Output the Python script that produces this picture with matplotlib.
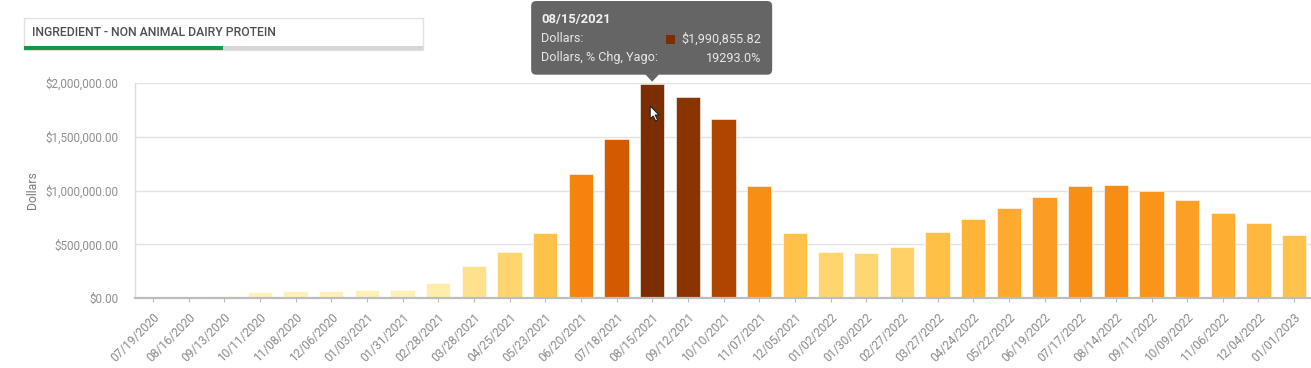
import matplotlib
matplotlib.use("Agg")
import matplotlib.pyplot as plt
import numpy as np
from matplotlib.colors import LinearSegmentedColormap, Normalize
from matplotlib.ticker import FuncFormatter, FixedLocator
from matplotlib.transforms import IdentityTransform
from matplotlib.patches import FancyBboxPatch, Rectangle, Polygon

# ---------------- data ----------------
dates = ["07/19/2020", "08/16/2020", "09/13/2020", "10/11/2020", "11/08/2020", "12/06/2020",
         "01/03/2021", "01/31/2021", "02/28/2021", "03/28/2021", "04/25/2021", "05/23/2021",
         "06/20/2021", "07/18/2021", "08/15/2021", "09/12/2021", "10/10/2021", "11/07/2021",
         "12/05/2021", "01/02/2022", "01/30/2022", "02/27/2022", "03/27/2022", "04/24/2022",
         "05/22/2022", "06/19/2022", "07/17/2022", "08/14/2022", "09/11/2022", "10/09/2022",
         "11/06/2022", "12/04/2022", "01/01/2023"]
dollars = [3000, 9000, 25000, 55000, 67000, 71000,
           77000, 74000, 140000, 298000, 434000, 609000,
           1155000, 1480000, 1990855.82, 1868000, 1667000, 1042000,
           603000, 431000, 419000, 472000, 618000, 736000,
           838000, 944000, 1040000, 1052000, 996000, 916000,
           795000, 698000, 590000]
title = "INGREDIENT - NON ANIMAL DAIRY PROTEIN"
y_label = "Dollars"
y_ticks = [0, 500000, 1000000, 1500000, 2000000]
hover_index = 14
hover_pct_chg_yago = 19293.0

W, H = 1311, 368
plt.rcParams['font.family'] = ['Roboto', 'DejaVu Sans']

fig = plt.figure(figsize=(W / 100, H / 100), dpi=100)
fig.patch.set_facecolor("white")

def px(x0, y_top0, x1, y_top1):
    return [x0 / W, 1 - y_top1 / H, (x1 - x0) / W, (y_top1 - y_top0) / H]

ax = fig.add_axes(px(135, 82.7, 1312, 298.3))

cmap = LinearSegmentedColormap.from_list("heat", [
    (0.00, "#FFF4C2"), (0.05, "#FFEFB0"), (0.15, "#FFE08C"), (0.22, "#FFD46E"),
    (0.30, "#FFC24A"), (0.37, "#FFB337"), (0.42, "#FDAA2E"), (0.47, "#FB9D22"),
    (0.52, "#F98E14"), (0.58, "#F5820D"), (0.74, "#D35A00"), (0.83, "#B04600"),
    (0.93, "#8C3500"), (1.00, "#7A2E00")])
norm = Normalize(0, 2000000)

x = np.arange(len(dates))
ax.bar(x, dollars, width=0.68, color=cmap(norm(np.array(dollars))), zorder=3,
       edgecolor="#ffffff", linewidth=0.4)

ax.set_xlim(-0.5, len(dates) - 0.5)
ax.set_ylim(0, 2000000)
ax.yaxis.set_major_locator(FixedLocator(y_ticks))
ax.yaxis.set_major_formatter(FuncFormatter(lambda v, p: f"${v:,.2f}"))
ax.set_xticks(x)
ax.set_xticklabels(dates, rotation=45, ha="right", va="top", rotation_mode="anchor",
                   fontsize=8.6, color="#8a8a8a")
ax.tick_params(axis="x", length=3, width=0.8, color="#bbbbbb", pad=6)
ax.tick_params(axis="y", length=0, labelsize=8.4, labelcolor="#8f8f8f", pad=12)
ax.grid(axis="y", color="#e3e3e3", linewidth=1.0, zorder=0)
for s in ["top", "right"]:
    ax.spines[s].set_visible(False)
ax.spines["left"].set_color("#dddddd")
ax.spines["left"].set_linewidth(1.0)
ax.spines["bottom"].set_color("#bdbdbd")
ax.spines["bottom"].set_linewidth(1.6)
ax.spines["bottom"].set_zorder(4)
ax.set_ylabel(y_label, fontsize=8.8, color="#7a7a7a", labelpad=0)
ax.yaxis.set_label_coords(-96 / 1177, 0.5)

ident = IdentityTransform()

def dy(y_top):
    return H - y_top

# ---- title box ----
fig.add_artist(Rectangle((24, dy(50)), 399, 32, transform=ident, facecolor="white",
                         edgecolor="#e2e2e2", linewidth=1.0))
fig.add_artist(Rectangle((24, dy(50)), 399, 4, transform=ident, facecolor="#d6d6d6",
                         edgecolor="none"))
fig.add_artist(Rectangle((24, dy(50)), 199, 4, transform=ident, facecolor="#14984c",
                         edgecolor="none"))
fig.text(32, dy(32), title, transform=ident, fontsize=8.8, color="#4f4f4f",
         fontweight="medium", va="center", ha="left")

# ---- tooltip ----
tip_x, tip_y = ax.transData.transform((hover_index, dollars[hover_index]))
tip_y += 2
box_l, box_r = tip_x - 121, tip_x + 120
box_b, box_t = tip_y + 7, H - 1
fig.add_artist(FancyBboxPatch((box_l, box_b), box_r - box_l, box_t - box_b,
                              boxstyle="round,pad=0,rounding_size=5", transform=ident,
                              facecolor="#656565", edgecolor="none", zorder=10))
fig.add_artist(Polygon([[tip_x - 7, box_b + 0.5], [tip_x + 7, box_b + 0.5], [tip_x, tip_y]],
                       closed=True, transform=ident, facecolor="#656565",
                       edgecolor="none", zorder=10))
tx = box_l + 10
fig.text(tx, box_t - 18, dates[hover_index], transform=ident, fontsize=9.4,
         fontweight="bold", color="#f2f2f2", va="center", ha="left", zorder=11)
fig.text(tx, box_t - 38, "Dollars:", transform=ident, fontsize=9.1,
         color="#e8e8e8", va="center", ha="left", zorder=11)
fig.text(tx, box_t - 57, "Dollars, % Chg, Yago:", transform=ident, fontsize=9.1,
         color="#e8e8e8", va="center", ha="left", zorder=11)
fig.text(box_r - 11, box_t - 38, f"${dollars[hover_index]:,.2f}", transform=ident,
         fontsize=9.1, color="#e8e8e8", va="center", ha="right", zorder=11)
fig.text(box_r - 11, box_t - 57, f"{hover_pct_chg_yago:.1f}%", transform=ident,
         fontsize=9.1, color="#e8e8e8", va="center", ha="right", zorder=11)
fig.add_artist(Rectangle((box_r - 106, box_t - 42.5), 9, 9, transform=ident,
                         facecolor=cmap(norm(dollars[hover_index])), edgecolor="none",
                         zorder=11))

# ---- mouse cursor ----
cx, cy = tip_x - 2, dy(106)
cur = np.array([[0, 0], [0, -13], [3, -10], [5.5, -15], [7.5, -14], [5, -9], [9, -9]])
fig.add_artist(Polygon(cur + [cx, cy], closed=True, transform=ident, facecolor="white",
                       edgecolor="#222222", linewidth=0.8, zorder=12))

fig.savefig("out.png", dpi=100, facecolor="white")
